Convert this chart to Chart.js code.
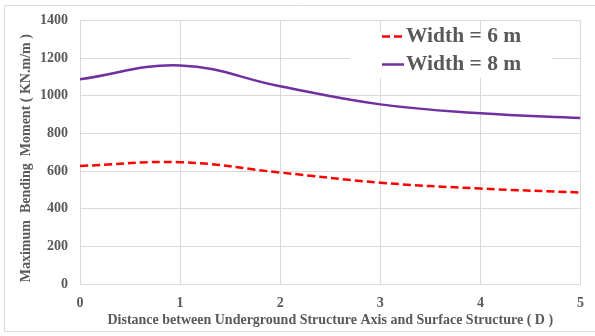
<!DOCTYPE html>
<html>
<head>
<meta charset="utf-8">
<script src="https://cdn.jsdelivr.net/npm/chart.js@4/dist/chart.umd.min.js"></script>
<style>
  html, body { margin: 0; padding: 0; background: #ffffff; }
  #wrap { width: 595px; height: 336px; position: relative; }
</style>
</head>
<body>
<div id="wrap"><canvas id="chart" width="595" height="336"></canvas></div>
<script>
// Distance (in multiples of D) between the underground structure axis and the surface structure
const distances = [0, 1, 2, 3, 4, 5];
// Maximum bending moment (KN.m/m) for each structure width
const width6 = [627, 647, 592, 538, 507, 486];
const width8 = [1087, 1161, 1050, 954, 907, 881];
const seriesLabels = ['Width = 6 m', 'Width = 8 m'];
const yTicks = [0, 200, 400, 600, 800, 1000, 1200, 1400];
const yTitle = 'Maximum  Bending  Moment ( KN.m/m )';

const textColor = '#595959';
const gridColor = '#d9d9d9';
const serif = 'Liberation Serif, Times New Roman, serif';

const toPoints = (vals) => distances.map((d, i) => ({ x: d, y: vals[i] }));

// Frame around the whole figure
const framePlugin = {
  id: 'frame',
  beforeDraw(chart) {
    const ctx = chart.ctx;
    ctx.save();
    ctx.fillStyle = '#ffffff';
    ctx.fillRect(0, 0, chart.width, chart.height);
    ctx.strokeStyle = gridColor;
    ctx.lineWidth = 1;
    ctx.beginPath();
    ctx.moveTo(chart.width, 5.5);
    ctx.lineTo(4.5, 5.5);
    ctx.lineTo(4.5, 331.5);
    ctx.lineTo(chart.width, 331.5);
    ctx.stroke();
    ctx.restore();
  }
};

// Vertical axis title, set slightly below the plot's middle
const yTitlePlugin = {
  id: 'yTitle',
  afterDraw(chart) {
    const ctx = chart.ctx;
    const area = chart.chartArea;
    ctx.save();
    ctx.translate(26, (area.top + area.bottom) / 2 + 6);
    ctx.rotate(-Math.PI / 2);
    ctx.fillStyle = textColor;
    ctx.font = 'bold 14px ' + serif;
    ctx.textAlign = 'center';
    ctx.textBaseline = 'middle';
    ctx.fillText(yTitle, 0, 0);
    ctx.restore();
  }
};

// Legend drawn inside the plot, on a white panel
const insideLegend = {
  id: 'insideLegend',
  afterDraw(chart) {
    const ctx = chart.ctx;
    const box = { x: 350, y: 32, w: 202, h: 46 };
    ctx.save();
    ctx.fillStyle = '#ffffff';
    ctx.fillRect(box.x, box.y, box.w, box.h);
    const rows = [36.5, 64.5];
    chart.data.datasets.forEach((ds, i) => {
      const y = rows[i];
      ctx.strokeStyle = ds.borderColor;
      ctx.lineWidth = 2.5;
      ctx.setLineDash(ds.borderDash || []);
      ctx.beginPath();
      ctx.moveTo(382, y);
      ctx.lineTo(404, y);
      ctx.stroke();
      ctx.setLineDash([]);
      ctx.fillStyle = textColor;
      ctx.font = 'bold 21.5px ' + serif;
      ctx.textBaseline = 'middle';
      ctx.textAlign = 'left';
      ctx.fillText(ds.label, 406, y);
    });
    ctx.restore();
  }
};

new Chart(document.getElementById('chart'), {
  type: 'line',
  data: {
    datasets: [
      {
        label: seriesLabels[0],
        data: toPoints(width6),
        borderColor: '#ff0000',
        borderWidth: 2.5,
        borderDash: [8, 4],
        pointRadius: 0,
        tension: 0.4,
        fill: false
      },
      {
        label: seriesLabels[1],
        data: toPoints(width8),
        borderColor: '#7030a0',
        borderWidth: 2.5,
        pointRadius: 0,
        tension: 0.4,
        fill: false
      }
    ]
  },
  options: {
    responsive: false,
    animation: false,
    layout: { padding: { top: 20, right: 14, bottom: 7, left: 0 } },
    plugins: {
      legend: { display: false },
      tooltip: { enabled: false }
    },
    scales: {
      x: {
        type: 'linear',
        min: 0,
        max: 5,
        ticks: {
          stepSize: 1,
          padding: 11,
          color: textColor,
          font: { family: serif, size: 14, weight: 'bold' }
        },
        grid: { color: gridColor, drawTicks: false },
        border: { color: gridColor },
        title: {
          display: true,
          text: 'Distance between Underground Structure Axis and Surface Structure ( D )',
          color: textColor,
          font: { family: serif, size: 14, weight: 'bold' },
          padding: { top: 0, bottom: 0 }
        },
        afterFit(scale) { scale.height = 45; }
      },
      y: {
        min: 0,
        max: 1400,
        afterBuildTicks(scale) { scale.ticks = yTicks.map(v => ({ value: v })); },
        ticks: {
          padding: 12,
          color: textColor,
          font: { family: serif, size: 14, weight: 'bold' },
          callback: (v) => String(v)
        },
        grid: { color: gridColor, drawTicks: false },
        border: { color: gridColor },
        title: { display: false },
        afterFit(scale) { scale.width = 80; }
      }
    }
  },
  plugins: [framePlugin, yTitlePlugin, insideLegend]
});
</script>
</body>
</html>
